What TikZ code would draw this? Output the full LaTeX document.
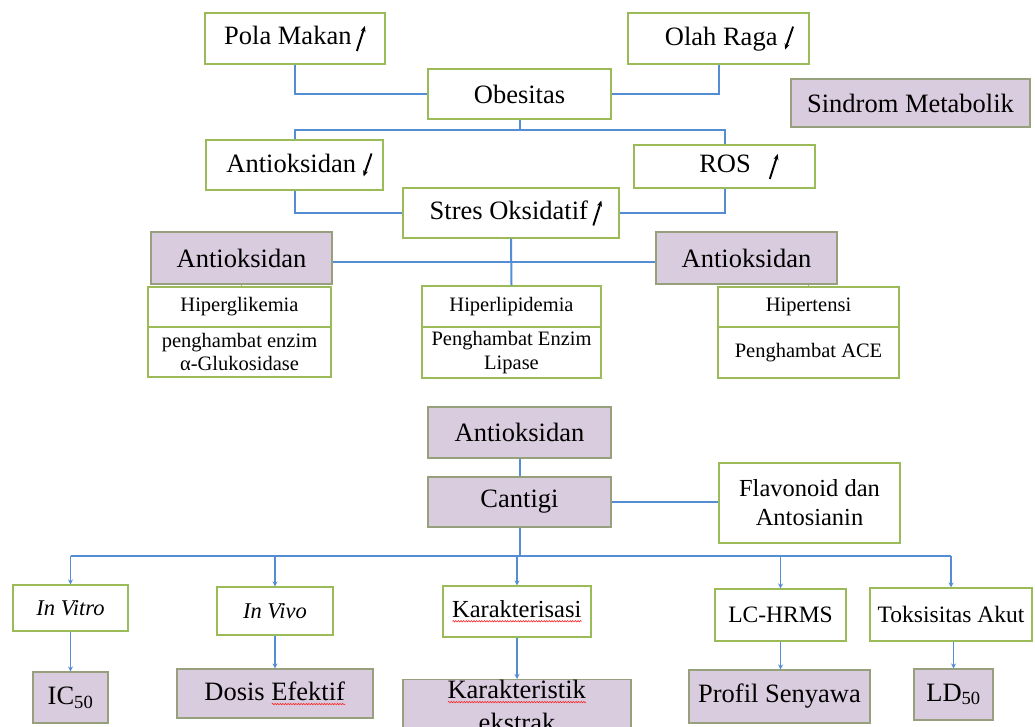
\documentclass[tikz,border=0pt]{standalone}
\usepackage{fontspec}
\setmainfont{Liberation Serif}
\usetikzlibrary{arrows.meta,decorations.pathmorphing}

\definecolor{boxgreen}{RGB}{155,187,89}
\definecolor{pboxline}{RGB}{150,160,125}
\definecolor{lav}{RGB}{217,204,222}
\definecolor{linkblue}{RGB}{84,141,212}

% small slanted arrows for "increases" / "decreases"
\newcommand{\naik}{\tikz[baseline=0pt,x=1pt,y=1pt]\draw[black,line width=1.9pt,-{Stealth[length=6pt,width=5pt]}] (0,-6) -- (8,19);}
\newcommand{\turun}{\tikz[baseline=0pt,x=1pt,y=1pt]\draw[black,line width=1.9pt,-{Stealth[length=6pt,width=5pt]}] (8,19) -- (0,-4);}
% spell-check style red wavy underline
\newsavebox{\wavybox}
\newcommand{\wavy}[1]{\sbox\wavybox{#1}\leavevmode\rlap{\usebox\wavybox}%
  \tikz[baseline=0pt,x=1pt,y=1pt]\draw[red!85!white,line width=0.6pt,decorate,
    decoration={snake,amplitude=0.7pt,segment length=2.6pt}]
    (0,-3.5) -- ({\wd\wavybox},-3.5);}

\tikzset{
  wbox/.style={draw=boxgreen, line width=1.1pt, fill=white, inner sep=0pt, align=center},
  pbox/.style={draw=pboxline, line width=1.1pt, fill=lav, inner sep=0pt, align=center},
  link/.style={draw=linkblue, line width=2pt},
  arr/.style={draw=linkblue, line width=1.5pt, -{Stealth[length=5pt,width=5pt]}},
  fbig/.style={font=\fontsize{26.5}{31}\selectfont},
  fmid/.style={font=\fontsize{24.5}{29}\selectfont},
  fsub/.style={font=\fontsize{23.5}{28}\selectfont},
  fsml/.style={font=\fontsize{20.5}{23.5}\selectfont},
  fital/.style={font=\fontsize{22.5}{27}\selectfont\itshape},
}

\begin{document}
\begin{tikzpicture}[x=1pt,y=-1pt]
\useasboundingbox (0,0) rectangle (1035,727);
\clip (0,0) rectangle (1035,727);
\fill[white] (0,0) rectangle (1035,727);

% ---- causes of obesity and oxidative stress
\node[wbox,fbig,minimum width=180,minimum height=51] (pola) at (295,38.5) {Pola Makan\,\naik};
\node[wbox,fbig,minimum width=181,minimum height=51] (olah) at (718.5,38.5) {\hspace*{22pt}Olah Raga \turun};
\node[wbox,fbig,minimum width=183,minimum height=50] (obes) at (519.5,94) {Obesitas};
\node[pbox,fbig,minimum width=239,minimum height=48] (sindrom) at (910.5,103) {Sindrom Metabolik};
\node[wbox,fbig,minimum width=177,minimum height=50] (ant1) at (294.5,165) {\hspace*{10pt}Antioksidan \turun};
\node[wbox,fbig,minimum width=181,minimum height=43] (ros) at (724.5,166.5) {\hspace*{29pt}ROS\hspace{18pt}\naik};
\node[wbox,fbig,minimum width=216,minimum height=50] (stres) at (511,213) {\hspace*{10pt}Stres Oksidatif\,\naik};

\draw[link] (pola.south) |- (obes.west);
\draw[link] (olah.south) |- (obes.east);
\path (obes.south) ++(0,10) coordinate (obj);
\draw[link] (obes.south) -- (obj) -| (ant1.north);
\draw[link] (obj) -| (ros.north);
\draw[link] (ant1.south) |- (stres.west);
\draw[link] (ros.south) |- (stres.east);

% ---- antioxidant targets
\node[pbox,fbig,minimum width=181,minimum height=52] (antL) at (241.5,258) {Antioksidan};
\node[pbox,fbig,minimum width=181,minimum height=52] (antR) at (746.5,258) {Antioksidan};
\node[wbox,fsml,minimum width=183,minimum height=40] (hglik) at (239.5,307) {Hiperglikemia};
\node[wbox,fsml,minimum width=183,minimum height=50] (hglikb) at (239.5,352) {penghambat enzim\\α-Glukosidase};
\node[wbox,fsml,minimum width=179,minimum height=41] (hlip) at (511.5,306.5) {Hiperlipidemia};
\node[wbox,fsml,minimum width=179,minimum height=51] (hlipb) at (511.5,352.5) {Penghambat Enzim\\Lipase};
\node[wbox,fsml,minimum width=181,minimum height=40] (hip) at (808.5,307) {Hipertensi};
\node[wbox,fsml,minimum width=181,minimum height=51] (hipb) at (808.5,352.5) {Penghambat ACE};

\draw[link] (stres.south) -- (hlip.north);
\draw[link] ([yshift=-4pt]antL.east) -- ([yshift=-4pt]antR.west);
\draw[draw=boxgreen,line width=1.1pt] (antL.south) -- (antL.south |- hglik.north);
\draw[draw=boxgreen,line width=1.1pt] (hip.north) -- (hip.north |- antR.south);

% ---- Cantigi research plan
\node[pbox,fbig,minimum width=183,minimum height=51] (ant2) at (519.5,432.5) {Antioksidan};
\node[pbox,fbig,minimum width=183,minimum height=50] (cantigi) at (519.5,502) {Cantigi};
\node[wbox,fmid,minimum width=181,minimum height=80] (flav) at (809.5,503) {Flavonoid dan\\Antosianin};

\node[wbox,fital,minimum width=115,minimum height=46] (invitro) at (70.5,608) {In Vitro};
\node[wbox,fital,minimum width=116,minimum height=48] (invivo) at (275,611) {In Vivo};
\node[wbox,fmid,minimum width=148,minimum height=51] (karakterisasi) at (517,611.5) {\wavy{Karakterisasi}};
\node[wbox,fsub,minimum width=131,minimum height=52] (lchrms) at (780.5,615) {LC-HRMS};
\node[wbox,fsub,minimum width=162,minimum height=53] (toks) at (951,614.5) {Toksisitas Akut};

\node[pbox,fbig,minimum width=75,minimum height=51] (ic50) at (70.5,697.5) {IC\textsubscript{50}};
\node[pbox,fbig,minimum width=196,minimum height=49] (dosis) at (275,693.5) {Dosis \wavy{Efektif}};
\node[pbox,minimum width=228,minimum height=70,anchor=north] (karakt) at (517,679) {};
\node[fbig,align=center,inner sep=0pt,anchor=north] (karakttxt) at ([yshift=-1pt]karakt.north) {\wavy{Karakteristik}\\[2pt]ekstrak};
\node[pbox,fbig,minimum width=181,minimum height=53] (profil) at (779.5,696.5) {Profil Senyawa};
\node[pbox,fbig,minimum width=79,minimum height=51] (ld50) at (953.5,694.5) {LD\textsubscript{50}};

\draw[link] (ant2.south) -- (cantigi.north);
\draw[link] (cantigi.east) -- (cantigi.east -| flav.west);
\coordinate (bus) at (519.5,556);
\draw[link] (cantigi.south) -- (bus);
\draw[link,line width=2.3pt] (invitro.north |- bus) -- (toks.north |- bus);
\foreach \n in {invitro,invivo,karakterisasi,lchrms,toks}
  \draw[arr] (\n.north |- bus) -- (\n.north);

\draw[arr] (invitro.south) -- (ic50.north);
\draw[arr] (invivo.south) -- (dosis.north);
\draw[arr] (karakterisasi.south) -- (karakterisasi.south |- karakt.north);
\draw[arr] (lchrms.south) -- (lchrms.south |- profil.north);
\draw[arr] (ld50.north |- toks.south) -- (ld50.north);
\end{tikzpicture}
\end{document}
